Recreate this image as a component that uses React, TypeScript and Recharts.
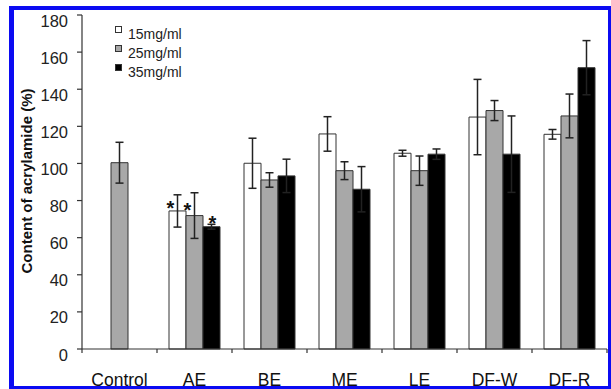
import React from "react";
import { BarChart, Bar, XAxis, YAxis, ErrorBar, LabelList, Legend } from "recharts";

const categories = ["Control", "AE", "BE", "ME", "LE", "DF-W", "DF-R"];
const dose15 = [null, 74.4, 100.1, 115.9, 105.5, 125, 115.7];
const dose15Err = [null, 8.7, 13.5, 9.3, 1.6, 20.3, 2.6];
const dose25 = [100.4, 71.9, 91.1, 96.1, 96.1, 128.5, 125.6];
const dose25Err = [11, 12.3, 3.9, 4.8, 7.9, 5.4, 11.8];
const dose35 = [null, 65.9, 93.3, 86.1, 105, 105, 151.6];
const dose35Err = [null, 1.3, 9, 12.2, 2.8, 20.6, 14.6];
const stars15 = ["", "*", "", "", "", "", ""];
const stars25 = ["", "*", "", "", "", "", ""];
const stars35 = ["", "*", "", "", "", "", ""];
const yTicks = [0, 20, 40, 60, 80, 100, 120, 140, 160, 180];

const FONT = "'Liberation Sans', Arial, sans-serif";
const W = 611;
const H = 389;
const PLOT_LEFT = 82;
const PLOT_RIGHT = 4;
const BAND = (W - PLOT_LEFT - PLOT_RIGHT) / categories.length;

const data = categories.map((name, i) => ({
  name,
  d15: dose15[i],
  e15: dose15Err[i],
  s15: stars15[i],
  d25: dose25[i],
  e25: dose25Err[i],
  s25: stars25[i],
  d35: dose35[i],
  e35: dose35Err[i],
  s35: stars35[i],
}));

// asterisk over a bar; "edge" sits at the bar's left side, clear of the error bar
const starLabel = (where: "edge" | "center", dy: number) => (props: any) => {
  const { x, y, width, value } = props;
  if (!value) return null;
  const cx = where === "edge" ? x + 1.5 : x + width / 2 + 1;
  return (
    <text x={cx} y={y + dy} textAnchor="middle" fontSize={20} fontWeight="bold" fill="#111" fontFamily={FONT}>
      {value}
    </text>
  );
};

const XTick = (props: any) => {
  const { x, y, payload, index } = props;
  const half = BAND / 2;
  return (
    <g>
      <line x1={x - half} y1={y} x2={x - half} y2={y + 4} stroke="#333" strokeWidth={1.2} />
      {index === categories.length - 1 && (
        <line x1={x + half} y1={y} x2={x + half} y2={y + 4} stroke="#333" strokeWidth={1.2} />
      )}
      <text x={x} y={y + 37} textAnchor="middle" fontSize={17.5} fill="#111" fontFamily={FONT}>
        {payload.value}
      </text>
    </g>
  );
};

const YTick = (props: any) => {
  const { x, y, payload } = props;
  return (
    <text x={x} y={y + 11.5} textAnchor="end" fontSize={16.5} fill="#222" fontFamily={FONT}>
      {payload.value}
    </text>
  );
};

const renderLegend = (props: any) => (
  <svg width={90} height={60} style={{ display: "block" }}>
    {(props.payload || []).map((entry: any, i: number) => (
      <g key={entry.value}>
        <rect x={0.5} y={i * 19 + 0.5} width={6} height={6} fill={entry.color} stroke="#333" />
        <text x={13} y={i * 19 + 13} fontSize={14} fill="#222" fontFamily={FONT}>
          {entry.value}
        </text>
      </g>
    ))}
  </svg>
);

const yTitle = (props: any) => {
  const { viewBox } = props;
  const x = viewBox.x + 32;
  const y = viewBox.y + viewBox.height / 2 - 1;
  return (
    <text
      x={x}
      y={y}
      transform={`rotate(-90 ${x} ${y})`}
      textAnchor="middle"
      fontSize={15}
      fontWeight="bold"
      fill="#111"
      fontFamily={FONT}
    >
      Content of acrylamide (%)
    </text>
  );
};

export default function App() {
  return (
    <div style={{ position: "fixed", left: 0, top: 0, width: W, height: H, background: "#fff" }}>
      <BarChart
        width={W}
        height={H}
        data={data}
        margin={{ top: 15, right: PLOT_RIGHT, bottom: 0, left: 0 }}
        barSize={17}
        barGap={0}
      >
        <XAxis
          dataKey="name"
          height={40}
          tickLine={false}
          tickSize={0}
          tickMargin={0}
          tick={<XTick />}
          axisLine={{ stroke: "#333", strokeWidth: 1.2 }}
          interval={0}
        />
        <YAxis
          width={PLOT_LEFT}
          domain={[0, 180]}
          ticks={yTicks}
          tickSize={5}
          tickMargin={9}
          tick={<YTick />}
          tickLine={{ stroke: "#333", strokeWidth: 1.2 }}
          axisLine={{ stroke: "#333", strokeWidth: 1.2 }}
          label={{ content: yTitle }}
        />
        <Legend
          layout="vertical"
          align="center"
          verticalAlign="middle"
          content={renderLegend}
          wrapperStyle={{ left: 115, top: 26, width: 90, height: 60 }}
        />
        <Bar dataKey="d15" name="15mg/ml" fill="#ffffff" stroke="#333" strokeWidth={1} isAnimationActive={false}>
          <ErrorBar dataKey="e15" width={4} stroke="#222" strokeWidth={1.5} />
          <LabelList dataKey="s15" content={starLabel("edge", 4)} />
        </Bar>
        <Bar dataKey="d25" name="25mg/ml" fill="#a8a8a8" stroke="#333" strokeWidth={1} isAnimationActive={false}>
          <ErrorBar dataKey="e25" width={4} stroke="#222" strokeWidth={1.5} />
          <LabelList dataKey="s25" content={starLabel("edge", 1.5)} />
        </Bar>
        <Bar dataKey="d35" name="35mg/ml" fill="#000000" stroke="#333" strokeWidth={1} isAnimationActive={false}>
          <ErrorBar dataKey="e35" width={4} stroke="#222" strokeWidth={1.5} />
          <LabelList dataKey="s35" content={starLabel("center", 3)} />
        </Bar>
      </BarChart>
      <div
        style={{
          position: "absolute",
          left: 9,
          top: 6,
          width: W - 9,
          height: H - 6,
          boxSizing: "border-box",
          borderStyle: "solid",
          borderColor: "#0b0bf2",
          borderWidth: "4px 3px 3px 5px",
          pointerEvents: "none",
        }}
      />
    </div>
  );
}
